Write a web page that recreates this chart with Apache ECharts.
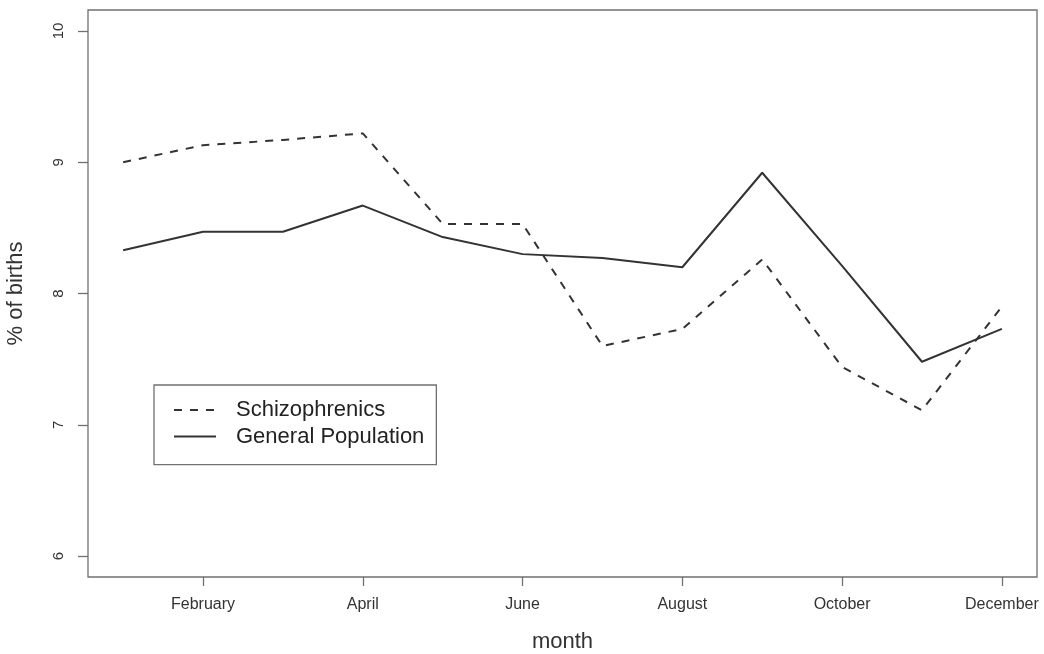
<!DOCTYPE html>
<html>
<head>
<meta charset="utf-8">
<script src="https://cdn.jsdelivr.net/npm/echarts@6/dist/echarts.min.js"></script>
<style>html,body{margin:0;padding:0;background:#fff}#c{width:1044px;height:654px}</style>
</head>
<body>
<div id="c"></div>
<script>
const months = ['January','February','March','April','May','June','July','August','September','October','November','December'];
const monthNums = [1,2,3,4,5,6,7,8,9,10,11,12];
const schizophrenics = [9.00, 9.13, 9.17, 9.22, 8.53, 8.53, 7.60, 7.73, 8.26, 7.44, 7.11, 7.90];
const generalPopulation = [8.33, 8.47, 8.47, 8.67, 8.43, 8.30, 8.27, 8.20, 8.92, 8.21, 7.48, 7.73];
const xTicks = [2,4,6,8,10,12];
const yTicks = [6,7,8,9,10];

const FONT = 'Liberation Sans, Arial, Helvetica, sans-serif';
const chart = echarts.init(document.getElementById('c'), null, {renderer: 'canvas'});
chart.setOption({
  backgroundColor: '#ffffff',
  animation: false,
  grid: {left: 88, right: 7, top: 10, bottom: 77, show: true, borderColor: '#707070', borderWidth: 1.3,
         containLabel: false, outerBoundsMode: 'none'},
  xAxis: {
    type: 'value', min: 0.56, max: 12.44,
    name: 'month', nameLocation: 'middle', nameGap: 54,
    nameTextStyle: {fontFamily: FONT, fontSize: 22, color: '#333'},
    axisLine: {show: false},
    splitLine: {show: false},
    axisTick: {show: true, length: 9, customValues: xTicks, lineStyle: {color: '#707070', width: 1.3}},
    axisLabel: {customValues: xTicks, margin: 20, fontFamily: FONT, fontSize: 16, color: '#333',
      formatter: v => months[Math.round(v) - 1]}
  },
  yAxis: {
    type: 'value', min: 5.84, max: 10.16,
    name: '% of births', nameLocation: 'middle', nameGap: 61, nameRotate: 90,
    nameTextStyle: {fontFamily: FONT, fontSize: 22, color: '#333'},
    axisLine: {show: false},
    splitLine: {show: false},
    axisTick: {show: true, length: 10, customValues: yTicks, lineStyle: {color: '#707070', width: 1.3}},
    axisLabel: {customValues: yTicks, rotate: 90, margin: 22, fontFamily: FONT, fontSize: 15, color: '#333'}
  },
  legend: {
    orient: 'vertical', left: 154, top: 385,
    borderColor: '#707070', borderWidth: 1.3, borderRadius: 0,
    padding: [13, 12, 16, 19],
    itemWidth: 42, itemHeight: 14, itemGap: 2.6,
    itemStyle: {opacity: 0},
    textStyle: {fontFamily: FONT, fontSize: 22, color: '#222', lineHeight: 24, padding: [0, 0, 0, 15]},
    data: ['Schizophrenics', 'General Population']
  },
  series: [
    {name: 'Schizophrenics', type: 'line', symbol: 'none',
     data: monthNums.map((m, i) => [m, schizophrenics[i]]),
     lineStyle: {color: '#333', width: 2, type: [8, 8]}, itemStyle: {color: '#333'}},
    {name: 'General Population', type: 'line', symbol: 'none',
     data: monthNums.map((m, i) => [m, generalPopulation[i]]),
     lineStyle: {color: '#333', width: 2, type: 'solid'}, itemStyle: {color: '#333'}}
  ]
});
</script>
</body>
</html>
